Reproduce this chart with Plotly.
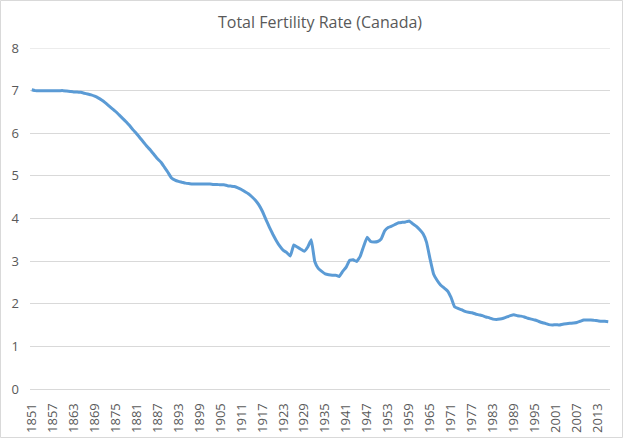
import plotly.graph_objects as go

years = list(range(1851, 2017))
tfr = [
    7.02, 7.00, 7.00, 7.00, 7.00, 7.00, 7.00, 7.00, 7.00, 7.00,
    6.99, 6.98, 6.97, 6.97, 6.96, 6.94, 6.92, 6.90, 6.87, 6.83,
    6.78, 6.72, 6.65, 6.58, 6.51, 6.43, 6.35, 6.27, 6.18, 6.08,
    5.99, 5.89, 5.79, 5.69, 5.60, 5.50, 5.40, 5.32, 5.20, 5.08,
    4.95, 4.90, 4.87, 4.85, 4.83, 4.82, 4.81, 4.81, 4.81, 4.81,
    4.81, 4.81, 4.80, 4.80, 4.79, 4.79, 4.77, 4.76, 4.75, 4.72,
    4.68, 4.63, 4.58, 4.51, 4.43, 4.32, 4.17, 3.98, 3.80, 3.63,
    3.48, 3.35, 3.25, 3.20, 3.12, 3.38, 3.33, 3.28, 3.23, 3.33,
    3.50, 2.99, 2.83, 2.76, 2.70, 2.68, 2.67, 2.67, 2.64, 2.76,
    2.86, 3.02, 3.03, 2.99, 3.11, 3.35, 3.56, 3.46, 3.45, 3.46,
    3.52, 3.71, 3.79, 3.82, 3.86, 3.90, 3.91, 3.92, 3.94, 3.88,
    3.82, 3.74, 3.64, 3.44, 3.05, 2.70, 2.55, 2.44, 2.37, 2.30,
    2.15, 1.93, 1.89, 1.86, 1.82, 1.80, 1.79, 1.76, 1.74, 1.72,
    1.69, 1.67, 1.64, 1.63, 1.64, 1.66, 1.69, 1.72, 1.74, 1.72,
    1.71, 1.69, 1.66, 1.64, 1.62, 1.59, 1.56, 1.54, 1.51, 1.50,
    1.51, 1.50, 1.52, 1.53, 1.54, 1.55, 1.56, 1.59, 1.62, 1.62,
    1.62, 1.61, 1.60, 1.59, 1.59, 1.58,
]
tick_years = list(range(1851, 2017, 6))
y_ticks = list(range(0, 9))

W, H = 624, 439
ml, mr, mt, mb = 30, 14, 48, 50
pw, ph = W - ml - mr, H - mt - mb

fig = go.Figure()
fig.add_trace(go.Scatter(
    x=years, y=tfr, mode="lines",
    line=dict(color="#5B9BD5", width=3, shape="spline", smoothing=0.3),
    hoverinfo="x+y", showlegend=False,
))

fig.update_layout(
    width=W, height=H,
    margin=dict(l=ml, r=mr, t=mt, b=mb, autoexpand=False),
    paper_bgcolor="white", plot_bgcolor="white",
    title=dict(text="Total Fertility Rate (Canada)", x=0.5, xref="paper",
               y=1 - 22 / H, yanchor="middle",
               font=dict(family="Open Sans", size=16, color="#595959")),
    xaxis=dict(
        range=[1850.5, 2016.5], tickmode="array", tickvals=tick_years,
        ticktext=[str(v) for v in tick_years], tickangle=-90,
        showgrid=False, zeroline=False, showline=True, linecolor="#D9D9D9",
        linewidth=1, ticks="", ticklabelstandoff=8, automargin=False,
        tickfont=dict(family="Open Sans", size=13, color="#595959"),
    ),
    yaxis=dict(
        range=[0, 8], tickmode="array", tickvals=y_ticks,
        showgrid=True, gridcolor="#D9D9D9", gridwidth=1, zeroline=False,
        showline=False, ticks="", ticklabelstandoff=10, automargin=False,
        tickfont=dict(family="Open Sans", size=13, color="#595959"),
    ),
    shapes=[
        dict(
            type="rect", xref="paper", yref="paper",
            x0=-(ml - 0.5) / pw, x1=1 + (mr - 1.5) / pw,
            y0=-(mb - 1.5) / ph, y1=1 + (mt - 0.5) / ph,
            line=dict(color="#D9D9D9", width=1), layer="below",
        ),
        dict(
            type="line", xref="paper", yref="y", x0=0, x1=1,
            y0=y_ticks[-1], y1=y_ticks[-1],
            line=dict(color="#D9D9D9", width=1), layer="below",
        ),
    ],
)

fig.write_html(
    "out.html",
    config={"displayModeBar": False},
    post_script="document.body.style.margin='0';document.body.style.overflow='hidden';",
)
